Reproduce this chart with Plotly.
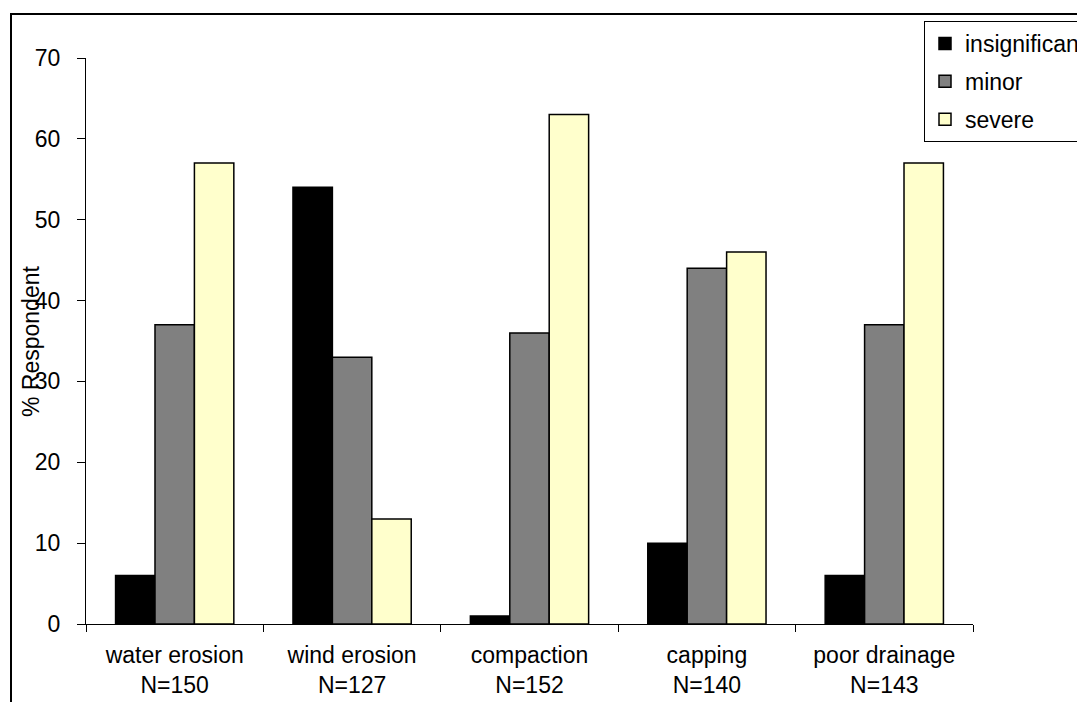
import plotly.graph_objects as go

categories = ["water erosion<br>N=150", "wind erosion<br>N=127", "compaction<br>N=152",
              "capping<br>N=140", "poor drainage<br>N=143"]
insignificant = [6, 54, 1, 10, 6]
minor = [37, 33, 36, 44, 37]
severe = [57, 13, 63, 46, 57]
series_names = ["insignificant", "minor", "severe"]
series_colors = ["#000000", "#808080", "#FFFFCC"]

FONT = "Liberation Sans, Arial, sans-serif"
FS = 23

fig = go.Figure()
for name, vals, col in zip(series_names, [insignificant, minor, severe], series_colors):
    fig.add_trace(go.Bar(
        x=categories, y=vals, name=name, legendgroup=name,
        marker=dict(color=col, line=dict(color="#000000", width=1.5)),
    ))

OFF = 8  # default page body margin
W, H = 1085 - OFF, 702 - OFF
L, R, T, B = 86, 973, 58, 624          # plot area in page pixels
pw, ph = R - L, B - T

fig.update_layout(
    width=W, height=H,
    margin=dict(l=L - OFF, r=W - (R - OFF), t=T - OFF, b=H - (B - OFF), autoexpand=False),
    paper_bgcolor="white", plot_bgcolor="white",
    font=dict(family=FONT, size=FS, color="#000000"),
    barmode="group", bargap=1.5 / 4.5, bargroupgap=0,
    showlegend=True,
    legend=dict(
        x=(924 - L) / pw, xanchor="left",
        y=(B - 21) / ph, yanchor="top",
        bgcolor="white", bordercolor="#000000", borderwidth=1,
        font=dict(family=FONT, size=FS, color="#000000"),
        traceorder="grouped", tracegroupgap=5,
    ),
    xaxis=dict(
        showline=True, linecolor="#000000", linewidth=1,
        ticks="outside", ticklen=7, tickcolor="#000000", tickwidth=1,
        tickson="boundaries", showgrid=False, zeroline=False,
        tickfont=dict(family=FONT, size=FS, color="#000000"),
        ticklabelstandoff=10,
    ),
    yaxis=dict(
        range=[0, 70], dtick=10, tick0=0,
        showline=True, linecolor="#000000", linewidth=1,
        ticks="outside", ticklen=8, tickcolor="#000000", tickwidth=1,
        showgrid=False, zeroline=False,
        tickfont=dict(family=FONT, size=FS, color="#000000"),
        ticklabelstandoff=12,
    ),
    shapes=[dict(
        type="rect", xref="paper", yref="paper",
        x0=(11 - L) / pw, x1=1.5, y0=-0.5, y1=(B - 14) / ph,
        line=dict(color="#000000", width=2), fillcolor="rgba(0,0,0,0)", layer="below",
    )],
    annotations=[dict(
        text="% Respondent", textangle=-90, xref="paper", yref="paper",
        x=(31 - L) / pw, y=(B - 342) / ph, xanchor="center", yanchor="middle",
        showarrow=False, font=dict(family=FONT, size=FS, color="#000000"),
    )],
)

fig.write_html("out.html")
